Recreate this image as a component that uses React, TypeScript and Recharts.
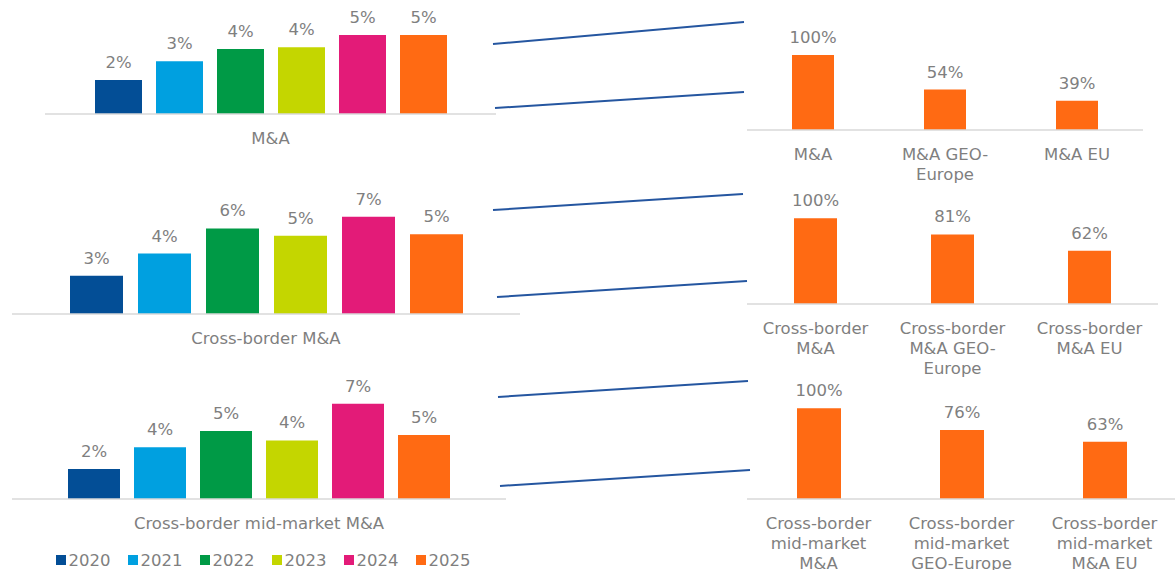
import React from 'react';
import { BarChart, Bar, XAxis, YAxis, LabelList, Legend } from 'recharts';

// ---------- data ----------
const years = ['2020', '2021', '2022', '2023', '2024', '2025'];
const leftCategories = ['M&A', 'Cross-border M&A', 'Cross-border mid-market M&A'];
const maValues = [2.2, 3.4, 4.2, 4.3, 5.1, 5.1];
const crossBorderValues = [2.6, 4.1, 5.8, 5.3, 6.6, 5.4];
const midMarketValues = [2.2, 3.8, 5.0, 4.3, 7.0, 4.7];

const maShareLabels = ['M&A', 'M&A GEO-\nEurope', 'M&A EU'];
const maShareValues = [100, 54, 39];
const cbShareLabels = ['Cross-border\nM&A', 'Cross-border\nM&A GEO-\nEurope', 'Cross-border\nM&A EU'];
const cbShareValues = [100, 81, 62];
const mmShareLabels = ['Cross-border\nmid-market\nM&A', 'Cross-border\nmid-market\nGEO-Europe', 'Cross-border\nmid-market\nM&A EU'];
const mmShareValues = [100, 76, 63];

// ---------- styles ----------
const yearColors = ['#034e96', '#00a0e0', '#009a46', '#c4d600', '#e31b78', '#ff6a13'];
const orange = '#ff6a13';
const textGray = '#7f7f7f';
const axisGray = '#d9d9d9';
const lineBlue = '#2556a0';
const FONT = '"DejaVu Sans", Verdana, sans-serif';
const FS = 16.5;

const buildLeftRow = (name: string, values: number[]) => {
  const row: Record<string, any> = { name };
  years.forEach((y, i) => { row[y] = values[i]; });
  return [row];
};
const buildRightRows = (labels: string[], values: number[]) =>
  labels.map((l, i) => ({ name: l, value: values[i] }));

const MultiLineTick = (props: any) => {
  const { x, y, payload } = props;
  const lines = String(payload.value).split('\n');
  return (
    <text x={x} y={y + 30} textAnchor="middle" fill={textGray} fontSize={FS} fontFamily={FONT}>
      {lines.map((l, i) => (
        <tspan key={i} x={x} dy={i === 0 ? 0 : 20}>{l}</tspan>
      ))}
    </text>
  );
};

const LegendContent = (props: any) => {
  const { payload } = props;
  return (
    <div style={{ display: 'flex', justifyContent: 'center', alignItems: 'center', height: 20, paddingLeft: 8 }}>
      {(payload || []).map((p: any, i: number) => (
        <div key={i} style={{ display: 'flex', alignItems: 'center', marginRight: i === payload.length - 1 ? 0 : 17 }}>
          <span style={{ display: 'inline-block', width: 10, height: 10, background: p.color, marginRight: 3 }} />
          <span style={{ color: textGray, fontSize: FS, fontFamily: FONT }}>{p.value}</span>
        </div>
      ))}
    </div>
  );
};

type LeftProps = {
  name: string; values: number[]; top: number; width: number; height: number;
  margin: any; xHeight: number; yMax: number; barSize: number; barGap: number; legend?: boolean;
};

const LeftPanel = ({ name, values, top, width, height, margin, xHeight, yMax, barSize, barGap, legend }: LeftProps) => (
  <div style={{ position: 'absolute', left: 0, top }}>
    <BarChart width={width} height={height} data={buildLeftRow(name, values)} margin={margin} barGap={barGap}>
      <XAxis dataKey="name" tickLine={false} tickSize={0} tickMargin={0} height={xHeight}
        axisLine={{ stroke: axisGray, strokeWidth: 1.5 }} tick={<MultiLineTick />} interval={0} />
      <YAxis hide domain={[0, yMax]} />
      {legend && <Legend verticalAlign="bottom" content={<LegendContent />} />}
      {years.map((y, i) => (
        <Bar key={y} dataKey={y} name={y} fill={yearColors[i]} barSize={barSize} isAnimationActive={false}>
          <LabelList dataKey={y} position="top" offset={12} fill={textGray} fontSize={FS} fontFamily={FONT}
            formatter={(v: any) => `${Math.round(Number(v))}%`} />
        </Bar>
      ))}
    </BarChart>
  </div>
);

type RightProps = {
  labels: string[]; values: number[]; top: number; width: number; height: number;
  margin: any; xHeight: number; barSize: number;
};

const RightPanel = ({ labels, values, top, width, height, margin, xHeight, barSize }: RightProps) => (
  <div style={{ position: 'absolute', left: 740, top }}>
    <BarChart width={width} height={height} data={buildRightRows(labels, values)} margin={margin}>
      <XAxis dataKey="name" tickLine={false} tickSize={0} tickMargin={0} height={xHeight}
        axisLine={{ stroke: axisGray, strokeWidth: 1.5 }} tick={<MultiLineTick />} interval={0} />
      <YAxis hide domain={[0, 120]} />
      <Bar dataKey="value" fill={orange} barSize={barSize} isAnimationActive={false}>
        <LabelList dataKey="value" position="top" offset={12} fill={textGray} fontSize={FS} fontFamily={FONT}
          formatter={(v: any) => `${v}%`} />
      </Bar>
    </BarChart>
  </div>
);

// decorative connector lines between the panels
const connectors = [
  [493, 44, 744, 22], [495, 108, 744, 92],
  [493, 210, 743, 194], [497, 297, 747, 281],
  [498, 397, 748, 381], [500, 486, 750, 470],
];

export default function App() {
  return (
    <div style={{ position: 'absolute', left: 0, top: 0, width: 1175, height: 570, overflow: 'hidden', background: '#fff', fontFamily: FONT }}>
      <LeftPanel name={leftCategories[0]} values={maValues} top={0} width={500} height={160}
        margin={{ top: 21, right: 4, bottom: 6, left: 45 }} xHeight={40} yMax={6} barSize={47} barGap={14} />
      <LeftPanel name={leftCategories[1]} values={crossBorderValues} top={170} width={530} height={190}
        margin={{ top: 26, right: 10, bottom: 6, left: 12 }} xHeight={40} yMax={8} barSize={53} barGap={15} />
      <LeftPanel name={leftCategories[2]} values={midMarketValues} top={370} width={520} height={200}
        margin={{ top: 20, right: 14, bottom: 0, left: 12 }} xHeight={51} yMax={8} barSize={52} barGap={14} legend />

      <RightPanel labels={maShareLabels} values={maShareValues} top={0} width={435} height={185}
        margin={{ top: 40, right: 32, bottom: 0, left: 7 }} xHeight={55} barSize={42} />
      <RightPanel labels={cbShareLabels} values={cbShareValues} top={185} width={435} height={200}
        margin={{ top: 16, right: 17, bottom: 10, left: 7 }} xHeight={71} barSize={43} />
      <RightPanel labels={mmShareLabels} values={mmShareValues} top={375} width={440} height={195}
        margin={{ top: 15, right: 4, bottom: 0, left: 7 }} xHeight={71} barSize={44} />

      <svg width={1175} height={570} style={{ position: 'absolute', left: 0, top: 0, pointerEvents: 'none' }}>
        {connectors.map((c, i) => (
          <line key={i} x1={c[0]} y1={c[1]} x2={c[2]} y2={c[3]} stroke={lineBlue} strokeWidth={2} />
        ))}
      </svg>
    </div>
  );
}
